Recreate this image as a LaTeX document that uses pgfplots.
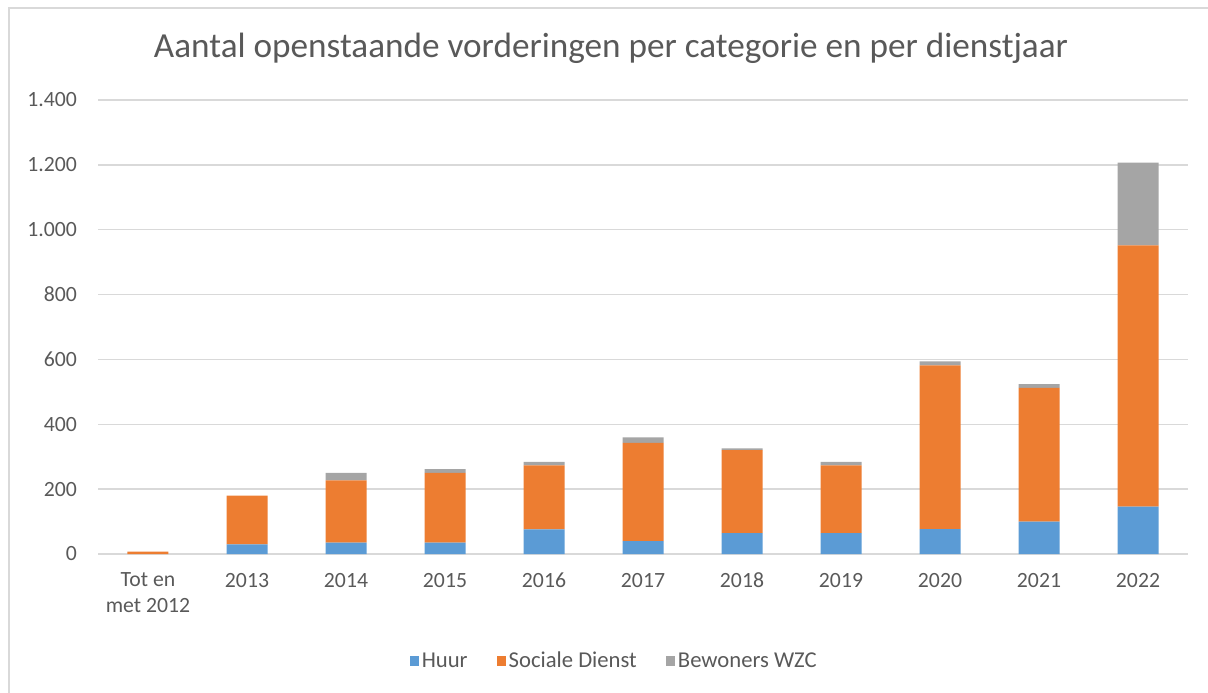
\documentclass[border=0pt]{standalone}
\usepackage{pgfplots}
\pgfplotsset{compat=1.18}
\usepackage{fontspec}
\setmainfont{Carlito}
\definecolor{cblue}{HTML}{5B9BD5}
\definecolor{corange}{HTML}{ED7D31}
\definecolor{cgray}{HTML}{A5A5A5}
\definecolor{ctext}{HTML}{595959}
\definecolor{cgrid}{HTML}{D9D9D9}
\begin{document}
\begin{tikzpicture}
\path[use as bounding box] (0pt,0pt) rectangle (906pt,519.75pt);
\draw[cgrid,line width=1.2pt] (6.75pt,0pt) -- (6.75pt,513.75pt) -- (906pt,513.75pt);
\node[text=ctext,font=\fontsize{26.4pt}{32pt}\selectfont] at (458.25pt,483.75pt) {Aantal openstaande vorderingen per categorie en per dienstjaar};
\begin{axis}[
  at={(73.875pt,104.25pt)}, anchor=south west,
  scale only axis, width=816.75pt, height=340.5pt,
  ybar stacked, bar width=30.75pt,
  xmin=-0.5, xmax=10.5, ymin=0, ymax=1400,
  ytick={0,200,...,1400},
  xtick={0,...,10},
  xticklabels={{Tot en\\met 2012},2013,2014,2015,2016,2017,2018,2019,2020,2021,2022},
  major tick length=0pt,
  axis line style={draw=none},
  ymajorgrids, grid style={cgrid,line width=1pt},
  tick label style={text=ctext,font=\fontsize{16.3pt}{19pt}\selectfont},
  xticklabel style={align=center,anchor=north,inner sep=0pt,yshift=-14pt},
  yticklabel style={anchor=east,inner sep=0pt,xshift=-16pt},
  /pgf/number format/.cd, 1000 sep={.}, assume math mode=true,
  /pgfplots/.cd,
  legend columns=3,
  legend style={at={(0.474,-0.2357)},anchor=center,draw=none,fill=none,
    font=\fontsize{17pt}{20pt}\selectfont,text=ctext,
    /tikz/every even column/.append style={column sep=20pt}},
  legend image code/.code={\fill[#1] (0pt,-3.4pt) rectangle (6.8pt,3.4pt);},
]
\addplot[fill=cblue,draw=none] coordinates {(0,0) (1,30) (2,35) (3,35) (4,76) (5,40) (6,64) (7,64) (8,77) (9,100) (10,146)};
\addplot[fill=corange,draw=none] coordinates {(0,7) (1,150) (2,192) (3,215) (4,197) (5,303) (6,256) (7,209) (8,505) (9,412) (10,806)};
\addplot[fill=cgray,draw=none] coordinates {(0,0) (1,0) (2,23) (3,12) (4,11) (5,17) (6,6) (7,11) (8,12) (9,12) (10,255)};
\legend{Huur,Sociale Dienst,Bewoners WZC}
\end{axis}
\end{tikzpicture}
\end{document}
